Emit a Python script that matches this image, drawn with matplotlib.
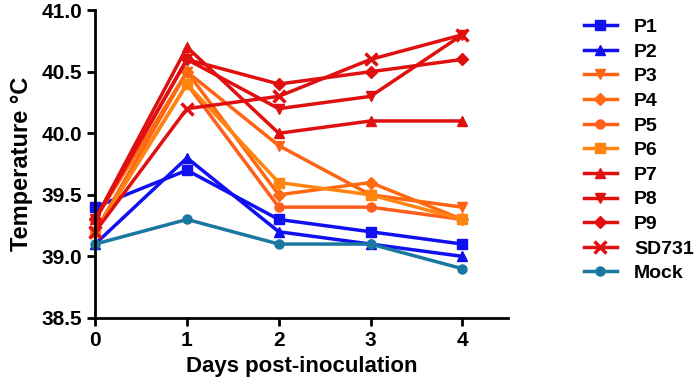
import matplotlib
matplotlib.use("Agg")
import matplotlib.pyplot as plt

plt.rcParams['font.family'] = ['Liberation Sans', 'DejaVu Sans']
plt.rcParams['font.weight'] = 'bold'

days = [0, 1, 2, 3, 4]
labels = ["P1", "P2", "P3", "P4", "P5", "P6", "P7", "P8", "P9", "SD731", "Mock"]

p1 = [39.4, 39.7, 39.3, 39.2, 39.1]
p2 = [39.1, 39.8, 39.2, 39.1, 39.0]
p3 = [39.2, 40.5, 39.9, 39.5, 39.4]
p4 = [39.3, 40.5, 39.5, 39.6, 39.3]
p5 = [39.2, 40.4, 39.4, 39.4, 39.3]
p6 = [39.2, 40.4, 39.6, 39.5, 39.3]
p7 = [39.3, 40.7, 40.0, 40.1, 40.1]
p8 = [39.3, 40.6, 40.2, 40.3, 40.8]
p9 = [39.3, 40.6, 40.4, 40.5, 40.6]
sd731 = [39.2, 40.2, 40.3, 40.6, 40.8]
mock = [39.1, 39.3, 39.1, 39.1, 38.9]

series = [p1, p2, p3, p4, p5, p6, p7, p8, p9, sd731, mock]
colors = ["#1010F0", "#1010F0", "#FF6414", "#FF6A10", "#FF5E1A", "#FF8410",
          "#E01010", "#E01010", "#E01010", "#E01010", "#1A78A0"]
markers = ["s", "^", "v", "D", "o", "s", "^", "v", "D", "x", "o"]

fig = plt.figure(figsize=(7, 3.92), dpi=100)
ax = fig.add_axes([0.136, 0.189, 0.59, 0.785])

for vals, lab, c, m in zip(series, labels, colors, markers):
    ms = 8 if m == "x" else 6.5
    ax.plot(days, vals, color=c, marker=m, markersize=ms, linewidth=2.5,
            markeredgewidth=2.5 if m == "x" else 1, label=lab, clip_on=False)

ax.set_xlim(0, 4.5)
ax.set_ylim(38.5, 41.0)
ax.set_xticks(days)
ax.set_yticks([38.5, 39.0, 39.5, 40.0, 40.5, 41.0])
ax.set_yticklabels(["38.5", "39.0", "39.5", "40.0", "40.5", "41.0"])
ax.tick_params(width=2, length=6, labelsize=15)
for lbl in ax.get_xticklabels() + ax.get_yticklabels():
    lbl.set_fontweight('bold')
for s in ["top", "right"]:
    ax.spines[s].set_visible(False)
for s in ["left", "bottom"]:
    ax.spines[s].set_linewidth(2)

ax.set_xlabel("Days post-inoculation", fontsize=16, fontweight='bold')
ax.set_ylabel("Temperature °C", fontsize=17, fontweight='bold', labelpad=6)

ax.legend(loc="upper left", bbox_to_anchor=(1.14, 1.03), frameon=False,
          prop={'size': 14, 'weight': 'bold'}, handlelength=1.7,
          handletextpad=0.9, labelspacing=0.36)

fig.savefig("out.png", dpi=100)
